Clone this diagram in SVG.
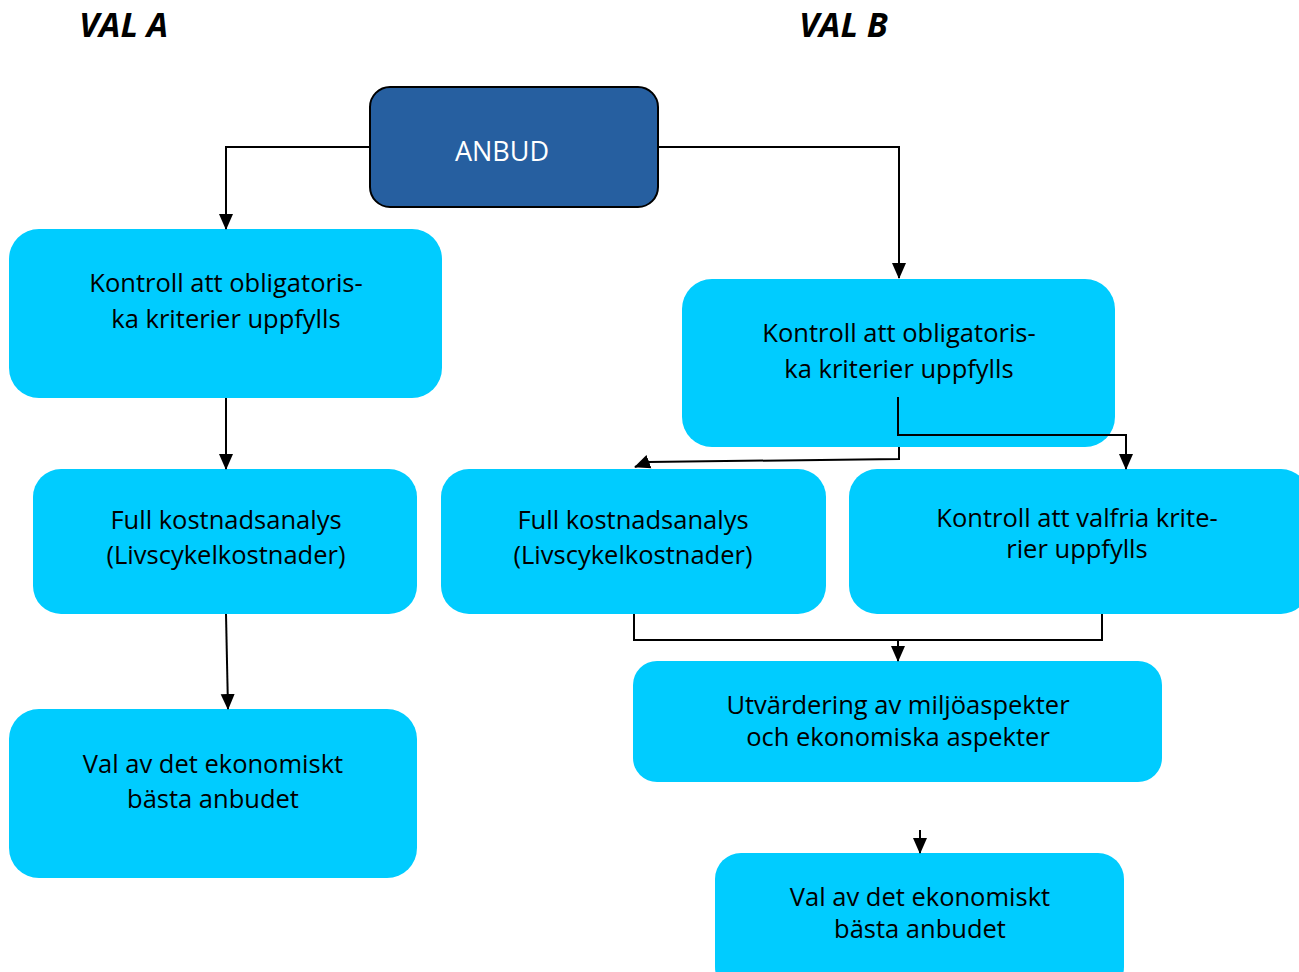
<svg xmlns="http://www.w3.org/2000/svg" width="1299" height="972" viewBox="0 0 1299 972">
<style>
.box{fill:#00CCFF}
.t{font-family:"Open Sans","Liberation Sans",sans-serif;font-size:25.5px;fill:#000;text-anchor:middle}
.h{font-family:"Open Sans","Liberation Sans",sans-serif;font-size:34px;font-weight:bold;font-style:italic;fill:#000}
.c{fill:none;stroke:#000;stroke-width:2}
</style>
<defs>
<marker id="ah" markerWidth="16" markerHeight="16" refX="15" refY="8" orient="auto" markerUnits="userSpaceOnUse">
<path d="M0,1 L16,8 L0,15 z" fill="#000"/>
</marker>
</defs>
<text class="h" x="79" y="37">VAL A</text>
<text class="h" x="799" y="37">VAL B</text>

<g id="anbud">
<rect x="370" y="87" width="288" height="120" rx="20" fill="#265FA0" stroke="#000" stroke-width="2"/>
<text class="t" x="502" y="161" style="fill:#fff;font-size:27px">ANBUD</text>
</g>

<g id="a1">
<rect class="box" x="9" y="229" width="433" height="169" rx="30"/>
<text class="t" x="226" y="292">Kontroll att obligatoris-</text>
<text class="t" x="226" y="328">ka kriterier uppfylls</text>
</g>
<g id="a2">
<rect class="box" x="33" y="469" width="384" height="145" rx="28"/>
<text class="t" x="226" y="529">Full kostnadsanalys</text>
<text class="t" x="226" y="564">(Livscykelkostnader)</text>
</g>
<g id="a3">
<rect class="box" x="9" y="709" width="408" height="169" rx="30"/>
<text class="t" x="213" y="773">Val av det ekonomiskt</text>
<text class="t" x="213" y="808">bästa anbudet</text>
</g>

<g id="b1">
<rect class="box" x="682" y="279" width="433" height="168" rx="30"/>
<text class="t" x="899" y="342">Kontroll att obligatoris-</text>
<text class="t" x="899" y="378">ka kriterier uppfylls</text>
</g>
<g id="b2">
<rect class="box" x="441" y="469" width="385" height="145" rx="28"/>
<text class="t" x="633" y="529">Full kostnadsanalys</text>
<text class="t" x="633" y="564">(Livscykelkostnader)</text>
</g>
<g id="b3">
<rect class="box" x="849" y="469" width="460" height="145" rx="28"/>
<text class="t" x="1077" y="527">Kontroll att valfria krite-</text>
<text class="t" x="1077" y="558">rier uppfylls</text>
</g>
<g id="b4">
<rect class="box" x="633" y="661" width="529" height="121" rx="24"/>
<text class="t" x="898" y="714">Utvärdering av miljöaspekter</text>
<text class="t" x="898" y="746">och ekonomiska aspekter</text>
</g>
<g id="b5">
<rect class="box" x="715" y="853" width="409" height="140" rx="26"/>
<text class="t" x="920" y="906">Val av det ekonomiskt</text>
<text class="t" x="920" y="938">bästa anbudet</text>
</g>

<g id="connectors">
<path class="c" d="M370,147 H226 V229" marker-end="url(#ah)"/>
<path class="c" d="M658,147 H899 V278" marker-end="url(#ah)"/>
<path class="c" d="M226,398 V469" marker-end="url(#ah)"/>
<path class="c" d="M226,614 L228,709" marker-end="url(#ah)"/>
<path class="c" d="M898,397 V435 H1126 V469" marker-end="url(#ah)"/>
<path class="c" d="M899,447 V459 L648,462 L635,467" marker-end="url(#ah)"/>
<path class="c" d="M634,614 V640 H1102 V614"/>
<path class="c" d="M898,640 V661" marker-end="url(#ah)"/>
<path class="c" d="M920,830 V853" marker-end="url(#ah)"/>
</g>
</svg>
